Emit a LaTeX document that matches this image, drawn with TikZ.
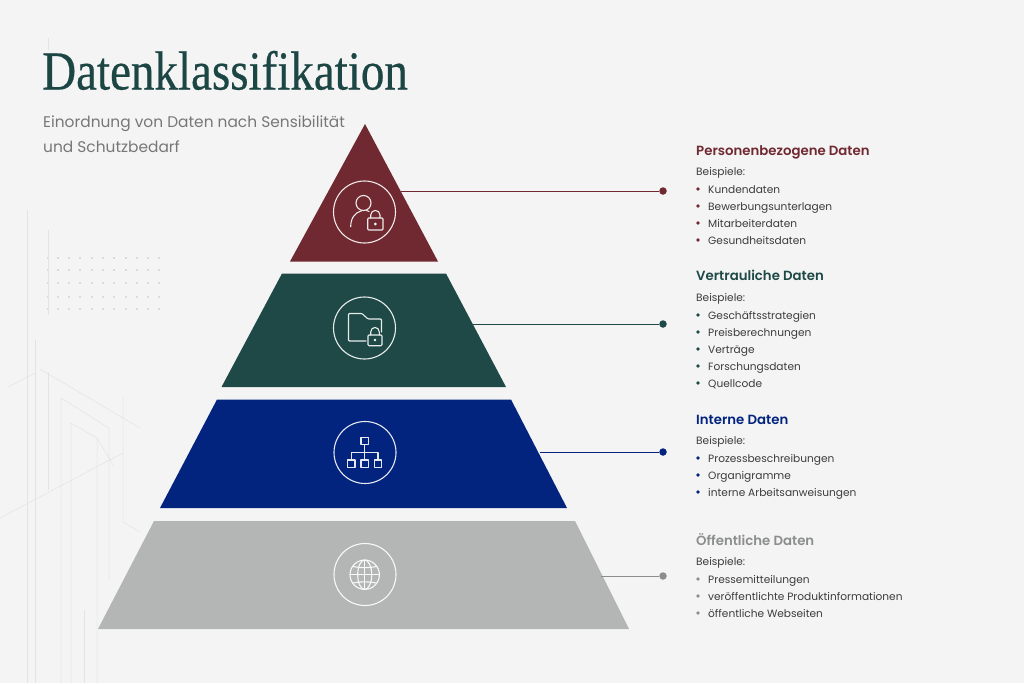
\documentclass[tikz,border=0pt]{standalone}
\usepackage{fontspec}
\setsansfont{Poppins}
\newfontfamily\titlefont[FakeStretch=0.855,FakeBold=0.4]{Liberation Serif}
\newfontfamily\headfont{Poppins SemiBold}
\definecolor{bgpage}{HTML}{F4F4F4}
\definecolor{wine}{HTML}{702930}
\definecolor{pine}{HTML}{1E4946}
\definecolor{navy}{HTML}{02247F}
\definecolor{stone}{HTML}{B4B5B5}
\definecolor{stonetext}{HTML}{8C8D8D}
\definecolor{bodytext}{HTML}{3C3C3C}
\definecolor{subtext}{HTML}{777777}
\definecolor{titlegreen}{HTML}{1C4644}
\definecolor{decoline}{HTML}{E3E3E3}
\tikzset{
  tier/.style={fill=#1,draw=none},
  ring/.style={circle,draw=white!90!#1,line width=1.1pt,minimum size=62pt,inner sep=0pt},
  icon/.style={draw=white!90!#1,line width=1.1pt,line join=round,line cap=round},
  heading/.style={anchor=base west,text=#1,font=\headfont\fontsize{13.3}{15}\selectfont,inner sep=0pt},
  plain/.style={anchor=base west,text=bodytext,font=\sffamily\fontsize{10.6}{13}\selectfont,inner sep=0pt},
  subline/.style={anchor=base west,text=subtext,inner sep=0pt,font=\sffamily\fontsize{15.4}{18}\selectfont},
  dotend/.style={circle,fill=#1,minimum size=7.5pt,inner sep=0pt},
  bullet/.style={circle,fill=#1,minimum size=3.6pt,inner sep=0pt},
  leader/.style={draw=#1,line width=0.9pt},
  deco/.style={draw=decoline,line width=0.5pt}
}
\begin{document}
\begin{tikzpicture}[x=1pt,y=-1pt]
  \fill[bgpage] (0,0) rectangle (1024,683);
  \useasboundingbox (0,0) rectangle (1024,683);
  % background traces
  \foreach \yy in {258,270,283,297,309} {
    \foreach \xx in {48,58,69,80,92,103,114,126,137,148,159} {
      \fill[decoline!85!black] (\xx,\yy) circle (0.8);
    }
  }
  \draw[deco] (48,38) -- (48,50);
  \draw[deco] (48,230) -- (48,315);
  \draw[deco] (27,210) -- (27,683);
  \draw[deco] (35,340) -- (35,683);
  \draw[deco] (8,387) -- (35,373);
  \draw[deco] (40,369) -- (140,428);
  \draw[deco] (48,372) -- (48,490);
  \draw[deco] (61,683) -- (61,398) -- (109,428) -- (109,580);
  \draw[deco] (71,683) -- (71,423) -- (97,438) -- (97,683);
  \draw[deco] (97,438) -- (113,465);
  \draw[deco] (0,518) -- (123,453);
  \draw[deco] (123,397) -- (123,522) -- (140,532);
  \draw[deco] (84,610) -- (84,683);
  % pyramid
  \fill[tier=wine] (365,124) -- (438,261.5) -- (290,261.5) -- cycle;
  \fill[tier=pine] (282,273.5) -- (446,273.5) -- (506,387) -- (221.5,387) -- cycle;
  \fill[tier=navy] (217,399.5) -- (511,399.5) -- (567,508) -- (160,508) -- cycle;
  \fill[tier=stone] (154,521) -- (575,521) -- (629,629) -- (98,629) -- cycle;
  % title
  \node[anchor=base west,text=titlegreen,inner sep=0pt,font=\titlefont\fontsize{55}{64}\selectfont] (title) at (42,89.5) {Datenklassifikation};
  \node[subline] (subone) at (43,127) {Einordnung von Daten nach Sensibilität};
  \node[subline] (subtwo) at (43,152) {und Schutzbedarf};
  % rings
  \node[ring=wine] (ringa) at (364.5,212) {};
  \node[ring=pine] (ringb) at (364.5,328) {};
  \node[ring=navy] (ringc) at (365,452.5) {};
  \node[ring=stone] (ringd) at (365,574.5) {};
  % person with lock
  \draw[icon=wine] (363.5,203) circle (7.5);
  \draw[icon=wine] (350.7,226.7) .. controls (350.7,218) and (355,212.5) .. (361.7,210.7);
  \draw[icon=wine] (366,210.3) -- (369,211.5);
  \draw[icon=wine,rounded corners=1pt] (367.7,218) rectangle (383,230);
  \draw[icon=wine] (370.7,218) -- (370.7,215) .. controls (370.7,209) and (380,209) .. (380,215) -- (380,218);
  \fill[white] (375.4,224) circle (1.5);
  % folder with lock
  \draw[icon=pine,rounded corners=1pt] (366,341) -- (348.5,341) -- (348.5,313.5) -- (362,313.5) -- (368,319) -- (381.5,319) -- (381.5,332);
  \draw[icon=pine,rounded corners=1pt] (368,335) rectangle (382,345.7);
  \draw[icon=pine] (370.7,335) -- (370.7,332) .. controls (370.7,326) and (379.3,326) .. (379.3,332) -- (379.3,335);
  \fill[white] (375,340) circle (1.4);
  % org chart
  \draw[icon=navy] (361,437.3) rectangle (368.6,444.7);
  \draw[icon=navy] (347.7,460) rectangle (355,467.3);
  \draw[icon=navy] (361,460) rectangle (368.3,467.3);
  \draw[icon=navy] (374.3,460) rectangle (381.7,467.3);
  \draw[icon=navy] (364.7,444.7) -- (364.7,460);
  \draw[icon=navy] (351.3,460) -- (351.3,452.3) -- (378,452.3) -- (378,460);
  % globe
  \draw[icon=stone] (364.7,574.7) circle (14.7);
  \draw[icon=stone] (364.7,574.7) ellipse (7 and 14.7);
  \draw[icon=stone] (364.7,560) -- (364.7,589.4);
  \draw[icon=stone] (350,574.7) -- (379.4,574.7);
  \draw[icon=stone] (353,566.5) to[bend right=10] (376.4,566.5);
  \draw[icon=stone] (353,583) to[bend left=10] (376.4,583);
  % leaders
  \coordinate (edgea) at (401,191);
  \coordinate (edgeb) at (473,324);
  \coordinate (edgec) at (540,452);
  \coordinate (edged) at (601,576);
  \node[dotend=wine] (dota) at (663,191) {};
  \node[dotend=pine] (dotb) at (663,324) {};
  \node[dotend=navy] (dotc) at (663,452) {};
  \node[dotend=stonetext] (dotd) at (663,576) {};
  \draw[leader=wine] (edgea) -- (dota);
  \draw[leader=pine] (edgeb) -- (dotb);
  \draw[leader=navy] (edgec) -- (dotc);
  \draw[leader=stonetext] (edged) -- (dotd);
  % block one
  \node[heading=wine] (heada) at (696,155) {Personenbezogene Daten};
  \node[plain] (egsa) at (696,175.7) {Beispiele:};
  \foreach \yy/\name/\txt in {189/aa/Kundendaten,206/ab/Bewerbungsunterlagen,223/ac/Mitarbeiterdaten,240/ad/Gesundheitsdaten} {
    \node[bullet=wine] (b\name) at (698,\yy) {};
    \node[plain] (t\name) at (708,\yy+4.2) {\txt};
  }
  % block two
  \node[heading=pine] (headb) at (696,280.7) {Vertrauliche Daten};
  \node[plain] (egsb) at (696,301) {Beispiele:};
  \foreach \yy/\name/\txt in {315/ba/Geschäftsstrategien,332/bb/Preisberechnungen,349/bc/Verträge,366/bd/Forschungsdaten,383/be/Quellcode} {
    \node[bullet=pine] (b\name) at (698,\yy) {};
    \node[plain] (t\name) at (708,\yy+4.2) {\txt};
  }
  % block three
  \node[heading=navy] (headc) at (696,424) {Interne Daten};
  \node[plain] (egsc) at (696,444) {Beispiele:};
  \foreach \yy/\name/\txt in {458/ca/Prozessbeschreibungen,475/cb/Organigramme,492/cc/interne Arbeitsanweisungen} {
    \node[bullet=navy] (b\name) at (698,\yy) {};
    \node[plain] (t\name) at (708,\yy+4.2) {\txt};
  }
  % block four
  \node[heading=stonetext] (headd) at (696,545) {Öffentliche Daten};
  \node[plain] (egsd) at (696,565) {Beispiele:};
  \foreach \yy/\name/\txt in {579/da/Pressemitteilungen,596/db/veröffentlichte Produktinformationen,613/dc/öffentliche Webseiten} {
    \node[bullet=stonetext] (b\name) at (698,\yy) {};
    \node[plain] (t\name) at (708,\yy+4.2) {\txt};
  }
\end{tikzpicture}
\end{document}
